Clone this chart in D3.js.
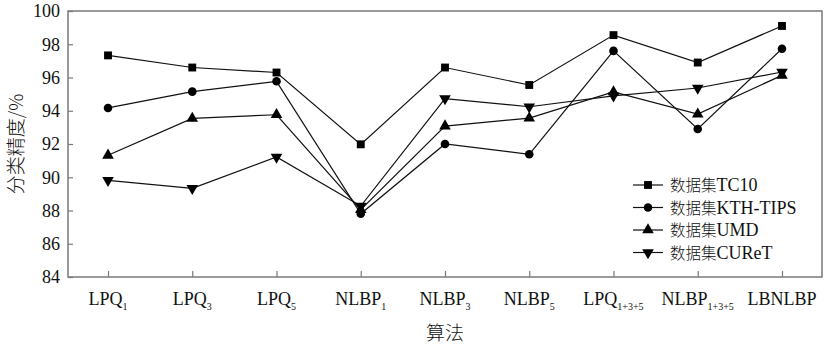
<!DOCTYPE html>
<html>
<head>
<meta charset="utf-8">
<script src="https://cdn.jsdelivr.net/npm/d3@7"></script>
<style>
  body { margin: 0; background: #fff; }
  svg text { fill: #111; }
  .serif { font-family: "Liberation Serif", "DejaVu Serif", serif; }
  .cjk { font-family: "Noto Sans CJK SC", sans-serif; font-weight: 300; }
</style>
</head>
<body>
<div id="chart"></div>
<script>
// categories: [main, subscript]
const categories = [
  ["LPQ", "1"], ["LPQ", "3"], ["LPQ", "5"],
  ["NLBP", "1"], ["NLBP", "3"], ["NLBP", "5"],
  ["LPQ", "1+3+5"], ["NLBP", "1+3+5"], ["LBNLBP", ""]
];
const seriesNames = ["数据集TC10", "数据集KTH-TIPS", "数据集UMD", "数据集CUReT"];
const tc10    = [97.33, 96.6, 96.3, 91.98, 96.6, 95.55, 98.55, 96.9, 99.1];
const kthTips = [94.17, 95.15, 95.77, 87.8, 92.0, 91.38, 97.6, 92.9, 97.73];
const umd     = [91.32, 93.54, 93.76, 88.05, 93.08, 93.56, 95.13, 93.8, 96.13];
const curet   = [89.81, 89.33, 91.22, 88.27, 94.73, 94.24, 94.9, 95.37, 96.33];
const yTicks = [84, 86, 88, 90, 92, 94, 96, 98, 100];

const width = 831, height = 346;
const margin = { top: 11, right: 9, bottom: 69, left: 68 };

const svg = d3.select("#chart").append("svg")
  .attr("width", width).attr("height", height);

const x = d3.scalePoint()
  .domain(d3.range(categories.length))
  .range([margin.left, width - margin.right])
  .padding(0.475);

const y = d3.scaleLinear()
  .domain([84, 100])
  .range([height - margin.bottom, margin.top]);

const frameColor = "#7a7a7a";

// y axis ticks (inside)
const yAxis = svg.append("g")
  .attr("transform", `translate(${margin.left},0)`)
  .call(d3.axisRight(y).tickValues(yTicks).tickSize(5).tickFormat(""));
yAxis.select(".domain").remove();
yAxis.selectAll("line").attr("stroke", frameColor).attr("stroke-width", 1.2);

svg.append("g").selectAll("text")
  .data(yTicks)
  .join("text")
  .attr("class", "serif")
  .attr("x", margin.left - 8)
  .attr("y", d => y(d))
  .attr("dy", "0.35em")
  .attr("text-anchor", "end")
  .attr("font-size", 18)
  .text(d => d);

// x axis ticks (inside, pointing up)
const xAxis = svg.append("g")
  .attr("transform", `translate(0,${height - margin.bottom})`)
  .call(d3.axisTop(x).tickSize(6).tickFormat(""));
xAxis.select(".domain").remove();
xAxis.selectAll("line").attr("stroke", frameColor).attr("stroke-width", 1.2);

const xLabels = svg.append("g").selectAll("text")
  .data(categories)
  .join("text")
  .attr("class", "serif")
  .attr("x", (d, i) => x(i))
  .attr("y", height - margin.bottom + 28)
  .attr("text-anchor", "middle")
  .attr("font-size", 18);
xLabels.append("tspan").text(d => d[0]);
xLabels.append("tspan")
  .attr("dy", 5)
  .attr("font-size", 10)
  .text(d => d[1]);

// frame
svg.append("rect")
  .attr("x", margin.left)
  .attr("y", margin.top)
  .attr("width", width - margin.left - margin.right)
  .attr("height", height - margin.top - margin.bottom)
  .attr("fill", "none")
  .attr("stroke", frameColor)
  .attr("stroke-width", 1.5);

// axis titles
svg.append("text")
  .attr("class", "cjk")
  .attr("transform", `translate(23,${(margin.top + height - margin.bottom) / 2}) rotate(-90)`)
  .attr("text-anchor", "middle")
  .attr("font-size", 19)
  .text("分类精度/%");

svg.append("text")
  .attr("class", "cjk")
  .attr("x", (margin.left + width - margin.right) / 2)
  .attr("y", 340)
  .attr("text-anchor", "middle")
  .attr("font-size", 19)
  .text("算法");

// series
const seriesData = [tc10, kthTips, umd, curet];
const symbols = [
  d3.symbol().type(d3.symbolSquare).size(62),
  d3.symbol().type(d3.symbolCircle).size(58),
  d3.symbol().type(d3.symbolTriangle).size(58),
  d3.symbol().type(d3.symbolTriangle).size(58)
];
const rotations = [0, 0, 0, 180];

const line = d3.line()
  .x((d, i) => x(i))
  .y(d => y(d));

seriesData.forEach((vals, s) => {
  svg.append("path")
    .datum(vals)
    .attr("d", line)
    .attr("fill", "none")
    .attr("stroke", "#111")
    .attr("stroke-width", 1.2);
  svg.append("g").selectAll("path")
    .data(vals)
    .join("path")
    .attr("d", symbols[s])
    .attr("transform", (d, i) => `translate(${x(i)},${y(d)}) rotate(${rotations[s]})`)
    .attr("fill", "#000");
});

// legend
const legend = svg.append("g").attr("transform", "translate(633,185)");
seriesNames.forEach((name, s) => {
  const g = legend.append("g").attr("transform", `translate(0,${s * 22.5})`);
  g.append("line")
    .attr("x1", 0).attr("x2", 30)
    .attr("stroke", "#111").attr("stroke-width", 1.2);
  g.append("path")
    .attr("d", symbols[s])
    .attr("transform", `translate(15,0) rotate(${rotations[s]})`)
    .attr("fill", "#000");
  const t = g.append("text")
    .attr("class", "serif")
    .attr("x", 37)
    .attr("dy", "0.35em")
    .attr("font-size", 18);
  t.append("tspan")
    .attr("class", "cjk")
    .attr("font-size", 15.5)
    .text(name.slice(0, 3));
  t.append("tspan").text(name.slice(3));
});
</script>
</body>
</html>
